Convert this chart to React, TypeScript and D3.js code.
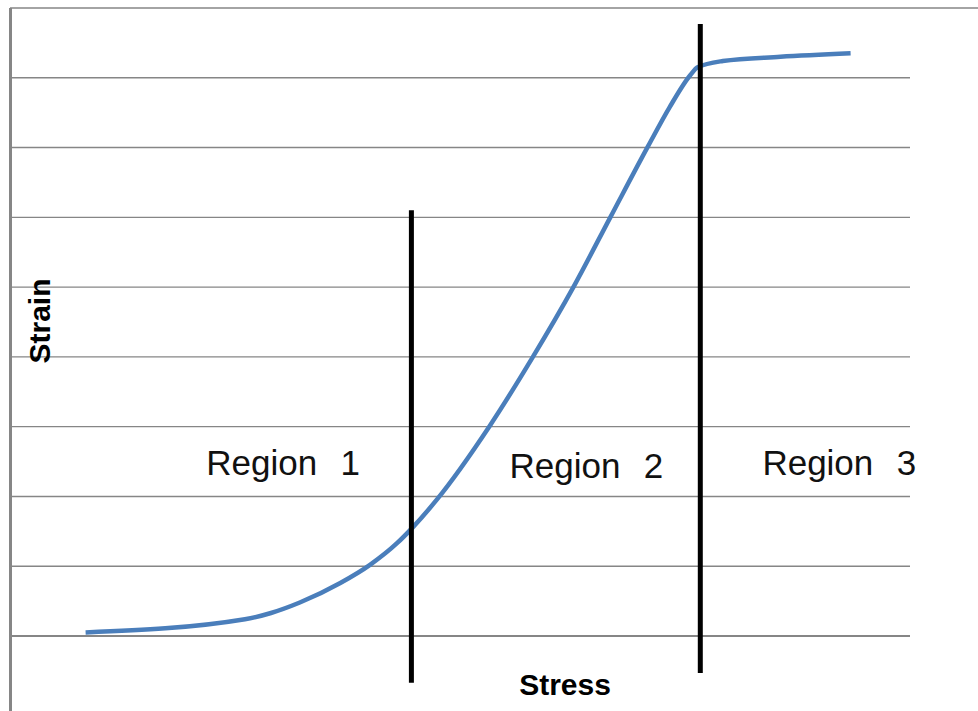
import * as d3 from "d3";
import React from "react";

// stress (x) vs strain (y)
const stress = [0.84, 2.61, 2.9, 3.22, 3.67, 4.0, 4.3, 4.47, 4.74, 5.33, 5.81, 6.26, 6.67, 7.09, 7.33, 7.56, 7.64, 7.92, 8.56, 9.34];
const strain = [0.05, 0.24, 0.33, 0.48, 0.76, 1.02, 1.33, 1.55, 1.95, 3.01, 4.0, 5.0, 6.0, 7.02, 7.58, 8.04, 8.15, 8.24, 8.3, 8.35];

// region boundaries (x, y from, y to)
const boundaryX = [4.46, 7.67];
const boundaryTop = [6.1, 8.77];
const boundaryBottom = [-0.67, -0.53];

const regionLabels = ["Region  1", "Region  2", "Region  3"];
const regionLabelX = [2.18, 5.55, 8.36];
const regionLabelY = [2.31, 2.27, 2.31];

const gridTicks = [0, 1, 2, 3, 4, 5, 6, 7, 8];

const W = 978;
const H = 711;

export default function App() {
  const x = d3.scaleLinear().domain([0, 10]).range([10, 910]);
  const y = d3.scaleLinear().domain([0, 9]).range([636, 8]);

  const pts: [number, number][] = stress.map((s, i) => [s, strain[i]]);
  const line = d3
    .line<[number, number]>()
    .x((d) => x(d[0]))
    .y((d) => y(d[1]))
    .curve(d3.curveMonotoneX);

  return (
    <svg
      width={W}
      height={H}
      style={{ position: "absolute", left: 0, top: 0, background: "#fff" }}
      fontFamily="'Liberation Sans', Arial, sans-serif"
    >
      {/* gridlines */}
      {gridTicks.map((t) => (
        <line
          key={t}
          x1={x(0)}
          x2={x(10)}
          y1={y(t)}
          y2={y(t)}
          stroke="#868686"
          strokeWidth={t === 0 ? 2 : 1.4}
        />
      ))}
      {/* top border */}
      <line x1={x(0)} x2={W} y1={y(9)} y2={y(9)} stroke="#868686" strokeWidth={1.4} />
      {/* left axis */}
      <line x1={x(0) + 0.5} x2={x(0) + 0.5} y1={y(9)} y2={H} stroke="#868686" strokeWidth={3} />

      {/* curve */}
      <path d={line(pts) || ""} fill="none" stroke="#4a7ebb" strokeWidth={4.5} strokeLinejoin="round" strokeLinecap="butt" />

      {/* region boundaries */}
      {boundaryX.map((b, i) => (
        <line
          key={i}
          x1={x(b)}
          x2={x(b)}
          y1={y(boundaryTop[i])}
          y2={y(boundaryBottom[i])}
          stroke="#000"
          strokeWidth={5}
        />
      ))}

      {/* region labels */}
      {regionLabels.map((r, i) => (
        <text
          key={r}
          x={x(regionLabelX[i])}
          y={y(regionLabelY[i])}
          fontSize={35}
          fill="#111"
          wordSpacing={2}
          style={{ whiteSpace: "pre" }}
        >
          {r}
        </text>
      ))}

      {/* axis titles */}
      <text x={565} y={695} textAnchor="middle" fontSize={30} fontWeight="bold" fill="#000">
        Stress
      </text>
      <text
        transform="translate(50,321) rotate(-90)"
        textAnchor="middle"
        fontSize={30}
        fontWeight="bold"
        fill="#000"
      >
        Strain
      </text>
    </svg>
  );
}
